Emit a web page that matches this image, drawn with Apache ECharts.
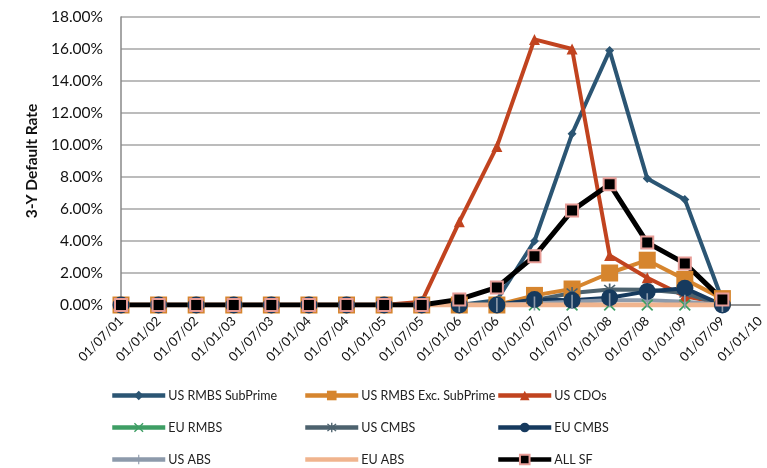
<!DOCTYPE html>
<html>
<head>
<meta charset="utf-8">
<script src="https://cdn.jsdelivr.net/npm/echarts@6/dist/echarts.min.js"></script>
<style>
  html, body { margin: 0; padding: 0; background: #fff; }
  #chart { width: 767px; height: 468px; }
</style>
</head>
<body>
<div id="chart"></div>
<script>
// Half-year observation dates
const dates = ['01/07/01','01/01/02','01/07/02','01/01/03','01/07/03','01/01/04','01/07/04','01/01/05','01/07/05',
  '01/01/06','01/07/06','01/01/07','01/07/07','01/01/08','01/07/08','01/01/09','01/07/09','01/01/10'];

// 3-year default rates, in percent
const usRmbsSubprime = [0,0,0,0,0,0,0,0,0, 0, 0.3, 4.0, 10.7, 15.9, 7.9, 6.6, 0.3];
const usRmbsExcSubprime = [0,0,0,0,0,0,0,0,0, 0, 0, 0.6, 1.0, 2.0, 2.8, 1.6, 0.4];
const usCdos = [0,0,0,0,0,0,0,0, 0.2, 5.2, 9.9, 16.6, 16.0, 3.1, 1.7, 0.55, 0.1];
const euRmbs = [0,0,0,0,0,0,0,0,0, 0, 0, 0, 0, 0, 0, 0, 0];
const usCmbs = [0,0,0,0,0,0,0,0,0, 0, 0, 0.3, 0.75, 0.97, 0.95, 0.75, 0];
const euCmbs = [0,0,0,0,0,0,0,0,0, 0, 0, 0.35, 0.3, 0.45, 0.85, 1.05, 0];
const usAbs = [0,0,0,0,0,0,0,0,0, 0, 0, 0.1, 0.2, 0.3, 0.3, 0.2, 0];
const euAbs = [0,0,0,0,0,0,0,0,0, 0, 0, 0, 0, 0, 0, 0, 0];
const allSf = [0,0,0,0,0,0,0,0,0, 0.35, 1.1, 3.05, 5.9, 7.55, 3.9, 2.6, 0.35];

// Legend grid: three columns, three rows
const legendRows = [
  ['US RMBS SubPrime', 'US RMBS Exc. SubPrime', 'US CDOs'],
  ['EU RMBS', 'US CMBS', 'EU CMBS'],
  ['US ABS', 'EU ABS', 'ALL SF']
];

const FONT = 'Lato';
const crossPath = 'path://M0,1 L1,0 L5,4 L9,0 L10,1 L6,5 L10,9 L9,10 L5,6 L1,10 L0,9 L4,5 Z';
const starPath = 'path://M0,1 L1,0 L5,4 L9,0 L10,1 L6,5 L10,9 L9,10 L5,6 L1,10 L0,9 L4,5 Z M4.3,-1 L5.7,-1 L5.7,11 L4.3,11 Z';
// thin vertical tick; the zero-area segment keeps the square bounding box
const barPath = 'path://M0,6 L12,6 Z M5.3,0 L6.7,0 L6.7,12 L5.3,12 Z';

function line(name, data, color, width, symbol, size, extra) {
  return Object.assign({
    name: name,
    type: 'line',
    data: data,
    symbol: symbol,
    symbolSize: size,
    showAllSymbol: true,
    lineStyle: { color: color, width: width },
    itemStyle: { color: color },
    emphasis: { disabled: true }
  }, extra || {});
}

const colLeft = [110, 303, 496];
const rowCenter = [395, 427, 459];
const legends = [];
legendRows.forEach((row, r) => {
  row.forEach((name, c) => {
    legends.push({
      left: colLeft[c],
      top: rowCenter[r] - 6,
      padding: 0,
      itemWidth: 53,
      itemHeight: 12,
      selectedMode: false,
      lineStyle: { width: 4.5 },
      textStyle: { fontFamily: FONT, fontSize: 12.5, color: '#222', padding: [0, 0, 0, -2] },
      data: [name]
    });
  });
});

const chart = echarts.init(document.getElementById('chart'), null, { renderer: 'canvas' });
chart.setOption({
  animation: false,
  backgroundColor: '#fff',
  grid: { left: 121, right: 7, top: 17, bottom: 163, containLabel: false },
  legend: legends,
  xAxis: {
    type: 'category',
    data: dates,
    boundaryGap: false,
    axisLine: { lineStyle: { color: '#888', width: 1.5 } },
    axisTick: { show: false },
    axisLabel: { rotate: 45, interval: 0, fontFamily: FONT, fontSize: 13, color: '#111', margin: 14 },
    splitLine: { show: false }
  },
  yAxis: {
    type: 'value',
    min: 0, max: 18, interval: 2,
    name: '3-Y Default Rate',
    nameLocation: 'middle',
    nameGap: 78,
    nameTextStyle: { fontFamily: FONT, fontSize: 15.5, fontWeight: 'bold', color: '#111' },
    axisLine: { show: true, lineStyle: { color: '#888', width: 1.5 } },
    axisTick: { show: false },
    axisLabel: { fontFamily: FONT, fontSize: 15.5, color: '#111', margin: 18,
      formatter: v => v.toFixed(2) + '%' },
    splitLine: { lineStyle: { color: '#a6a6a6', width: 1.5 } }
  },
  series: [
    line('US RMBS SubPrime', usRmbsSubprime, '#2B5573', 4, 'diamond', 9),
    line('US RMBS Exc. SubPrime', usRmbsExcSubprime, '#D6852E', 4, 'rect', 17),
    line('US CDOs', usCdos, '#C1431F', 4, 'triangle', 11),
    line('EU RMBS', euRmbs, '#3E9E64', 3, crossPath, 12),
    line('US CMBS', usCmbs, '#4D626E', 4, starPath, 12),
    line('EU CMBS', euCmbs, '#163A5E', 4, 'circle', 17),
    line('US ABS', usAbs, '#8D9AAB', 4, barPath, 14),
    // EU ABS is drawn as a plain line: its markers are fully transparent
    line('EU ABS', euAbs, '#F0B48E', 5, 'circle', 4, {
      itemStyle: { color: '#F0B48E', opacity: 0 }
    }),
    line('ALL SF', allSf, '#000000', 5, 'rect', 12, {
      itemStyle: { color: '#000', borderColor: '#E79C96', borderWidth: 2 }
    })
  ]
});
</script>
</body>
</html>
